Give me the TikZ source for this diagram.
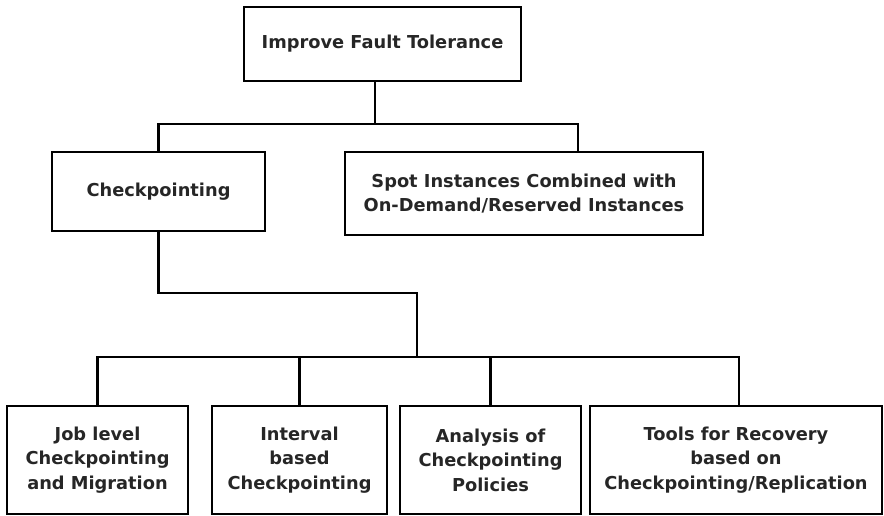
\documentclass[tikz,border=0pt]{standalone}
\usepackage{fontspec}
\setmainfont{DejaVu Sans}
\begin{document}
\begin{tikzpicture}[x=1pt,y=-1pt,
  box/.style={draw, line width=2.6pt, align=center, inner sep=0pt,
    font=\bfseries\fontsize{17.8}{24.5}\selectfont, text=black!85},
  conn/.style={line width=2.6pt, line join=miter}]
\useasboundingbox (0,0) rectangle (884,516);
\node[box, minimum width=277, minimum height=74] (top) at (382.5,44) {Improve Fault Tolerance};
\node[box, minimum width=213, minimum height=79] (check) at (158.5,191.5) {Checkpointing};
\node[box, minimum width=358, minimum height=83] (spot) at (524,193.5) {Spot Instances Combined with\\On-Demand/Reserved Instances};
\node[box, minimum width=181, minimum height=108] (b1) at (97.5,460) {Job level\\Checkpointing\\and Migration};
\node[box, minimum width=175, minimum height=108] (b2) at (299.5,460) {Interval\\based\\Checkpointing};
\node[box, minimum width=181, minimum height=108] (b3) at (490.5,460) {Analysis of\\Checkpointing\\Policies};
\node[box, minimum width=292, minimum height=108] (b4) at (736,460) {Tools for Recovery\\based on\\Checkpointing/Replication};
\coordinate (j1) at (375,124);
\coordinate (hr) at (578,124);
\coordinate (j2) at (417,293);
\coordinate (h2) at (417,357);
\coordinate (hb4) at (739,357);
\draw[conn] (top.south -| j1) -- (j1);
\draw[conn] (check.north) |- (hr) -- (hr |- spot.north);
\draw[conn] (check.south) |- (j2) -- (h2);
\draw[conn] (b1.north) |- (hb4) -- (hb4 |- b4.north);
\draw[conn] (b2.north) -- (b2.north |- h2);
\draw[conn] (b3.north) -- (b3.north |- h2);
\end{tikzpicture}
\end{document}
